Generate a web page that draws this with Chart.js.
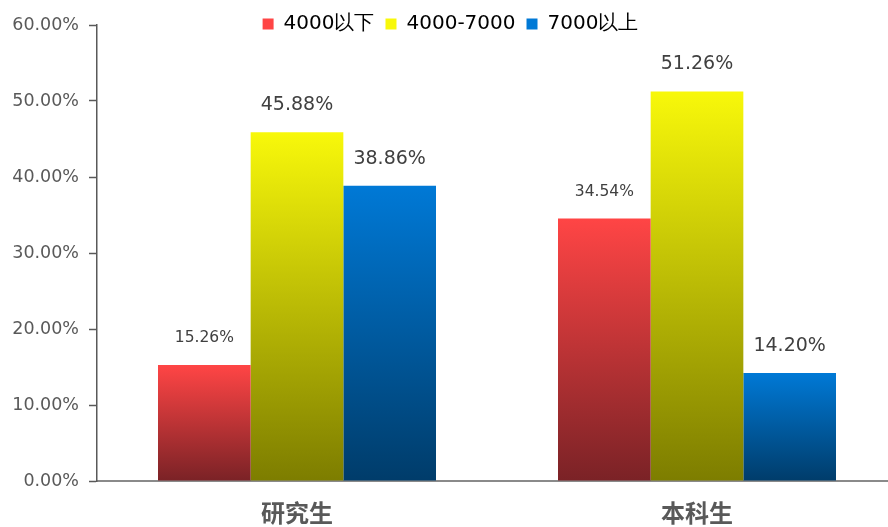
<!DOCTYPE html>
<html>
<head>
<meta charset="utf-8">
<script src="https://cdn.jsdelivr.net/npm/chart.js@4.4.1/dist/chart.umd.min.js"></script>
<style>
html,body{margin:0;padding:0;background:#fff;overflow:hidden;}
#wrap{position:relative;width:897px;height:527px;}
</style>
</head>
<body>
<div id="wrap"><canvas id="c" width="897" height="527"></canvas></div>
<script>
const categories = ['研究生', '本科生'];
const seriesNames = ['4000以下', '4000-7000', '7000以上'];
const below4000 = [15.26, 34.54];
const mid4000to7000 = [45.88, 51.26];
const above7000 = [38.86, 14.20];
const yTicks = [0, 10, 20, 30, 40, 50, 60];

const gradStops = [
  ['#ff4545', '#7a2226'],
  ['#f8f80a', '#7d7d00'],
  ['#0079d6', '#003c6a']
];
const labelFonts = [
  {family: 'DejaVu Sans', size: 15.5},
  {family: 'DejaVu Sans', size: 19},
  {family: 'DejaVu Sans', size: 19}
];

function gradFill(idx) {
  return function(c) {
    const chart = c.chart;
    const stops = gradStops[idx];
    if (c.type !== 'data' || !chart.chartArea) return stops[0];
    const y = chart.scales.y;
    const top = y.getPixelForValue(c.raw);
    const bot = y.getPixelForValue(0);
    const g = chart.ctx.createLinearGradient(0, top, 0, bot);
    g.addColorStop(0, stops[0]);
    g.addColorStop(1, stops[1]);
    return g;
  };
}

const valueLabels = {
  id: 'valueLabels',
  afterDatasetsDraw(chart) {
    const ctx = chart.ctx;
    ctx.save();
    ctx.fillStyle = '#404040';
    ctx.textAlign = 'center';
    ctx.textBaseline = 'middle';
    chart.data.datasets.forEach((ds, i) => {
      const meta = chart.getDatasetMeta(i);
      const f = labelFonts[i];
      ctx.font = f.size + 'px "' + f.family + '"';
      meta.data.forEach((bar, j) => {
        ctx.fillText(ds.data[j].toFixed(2) + '%', bar.x, bar.y - 27);
      });
    });
    ctx.restore();
  }
};

const legendFix = {
  id: 'legendFix',
  beforeLayout(chart) {
    const lg = chart.legend;
    if (lg && !lg._patched) {
      const f = lg.fit;
      lg.fit = function() { f.call(this); this.height = 25; };
      lg.draw = function() {
        if (!this.options.display) return;
        const ctx = this.ctx;
        ctx.save();
        ctx.translate(2, 3);
        this._draw();
        ctx.restore();
      };
      lg._patched = true;
    }
  }
};

const seriesData = [below4000, mid4000to7000, above7000];

new Chart(document.getElementById('c'), {
  type: 'bar',
  data: {
    labels: categories,
    datasets: seriesNames.map((n, i) => ({
      label: n,
      data: seriesData[i],
      backgroundColor: gradFill(i),
      borderWidth: 0,
      categoryPercentage: 0.695,
      barPercentage: 1.0
    }))
  },
  options: {
    responsive: false,
    animation: false,
    devicePixelRatio: 1,
    layout: {padding: {left: 0, right: 0, top: 0, bottom: 0}},
    plugins: {
      tooltip: {enabled: false},
      legend: {
        position: 'top',
        labels: {
          boxWidth: 11,
          boxHeight: 11,
          padding: 11,
          color: '#595959',
          font: {family: 'DejaVu Sans', size: 20},
          generateLabels(chart) {
            return chart.data.datasets.map((d, i) => ({
              text: d.label,
              fillStyle: gradStops[i][0],
              strokeStyle: gradStops[i][0],
              lineWidth: 0,
              datasetIndex: i,
              hidden: false
            }));
          }
        }
      }
    },
    scales: {
      x: {
        grid: {display: false, drawTicks: false},
        border: {display: true, color: '#8a8a8a', width: 2},
        ticks: {
          color: '#595959',
          font: {family: 'Noto Sans CJK SC', size: 24, weight: 'bold'},
          padding: 17
        },
        afterFit(s) { s.height = 46; }
      },
      y: {
        min: 0,
        max: 60,
        afterBuildTicks(s) { s.ticks = yTicks.map(v => ({value: v})); },
        grid: {display: true, drawOnChartArea: false, drawTicks: true, tickLength: 8, color: '#595959', tickWidth: 1.5},
        border: {display: true, color: '#595959', width: 1.5},
        ticks: {
          color: '#595959',
          font: {family: 'DejaVu Sans', size: 17.5},
          padding: 10,
          callback: v => v.toFixed(2) + '%'
        },
        afterFit(s) { s.width = 97; }
      }
    }
  },
  plugins: [valueLabels, legendFix]
});
</script>
</body>
</html>
